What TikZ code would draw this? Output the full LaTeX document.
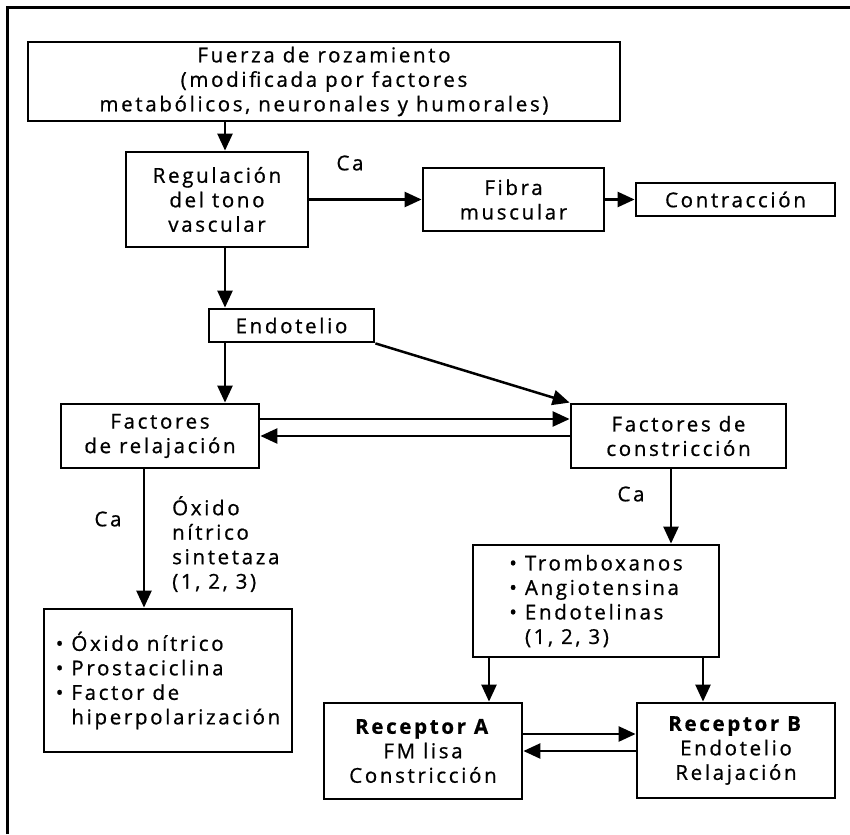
\documentclass[tikz,border=0pt]{standalone}
\usepackage{fontspec}
\setmainfont{Open Sans}[LetterSpace=13,FakeBold=0.8,BoldFeatures={FakeBold=0.8}]
\usetikzlibrary{arrows.meta}
\newcommand\diagfs{\fontsize{20.5}{24.5}\selectfont}
\tikzset{
  box/.style={draw, line width=2.8pt, inner sep=0pt, align=center, font=\diagfs},
  lbl/.style={inner sep=0pt, font=\diagfs},
  arr/.style={line width=2.5pt, -{Triangle[length=17pt,width=15pt]}},
}
\begin{document}
\begin{tikzpicture}[x=1pt,y=-1pt]
\useasboundingbox (0,0) rectangle (850,834);
% frame (top and left edges only)
\draw[line width=3pt] (7,834) -- (7,8) -- (850,8);
% boxes
\node[box, minimum width=592, minimum height=79] (top) at (324,81.5)
  {Fuerza de rozamiento\\(modificada por factores\\metabólicos, neuronales y humorales)};
\node[box, minimum width=182, minimum height=95] (reg) at (217,199.5)
  {Regulación\\del tono\\vascular};
\node[box, minimum width=181, minimum height=63] (fib) at (513.5,199.5)
  {Fibra\\muscular};
\node[box, minimum width=199, minimum height=33] (con) at (735.5,199.5)
  {Contracción};
\node[box, minimum width=165, minimum height=33] (endo) at (291.5,325.5)
  {Endotelio};
\node[box, minimum width=198, minimum height=64] (rel) at (160,436)
  {Factores\\de relajación};
\node[box, minimum width=215, minimum height=64] (cons) at (678.5,436)
  {Factores de\\constricción};
\node[box, minimum width=248, minimum height=143, align=left] (ox) at (168,680.5)
  {• Óxido nítrico\\• Prostaciclina\\• Factor de\\\phantom{• }hiperpolarización};
\node[box, minimum width=246, minimum height=112, align=left] (tro) at (596,601)
  {• Tromboxanos\\• Angiotensina\\• Endotelinas\\\phantom{• }(1, 2, 3)};
\node[box, minimum width=198, minimum height=96] (ra) at (423,751)
  {\textbf{Receptor A}\\FM lisa\\Constricción};
\node[box, minimum width=198, minimum height=95] (rb) at (736,750.5)
  {\textbf{Receptor B}\\Endotelio\\Relajación};
% labels
\node[lbl] (ca1) at (350,163) {Ca};
\node[lbl] (ca2) at (108,519) {Ca};
\node[lbl] (ca3) at (631,494) {Ca};
\node[lbl, anchor=west, align=left] (ons) at (172,544) {Óxido\\nítrico\\sintetaza\\(1, 2, 3)};
% helper coordinates
\coordinate (xa) at (225,0);
\coordinate (xb) at (144,0);
\coordinate (xc) at (671,0);
\coordinate (xd) at (489,0);
\coordinate (xe) at (703,0);
\coordinate (ya) at (0,419);
\coordinate (yb) at (0,436);
\coordinate (yc) at (0,734);
\coordinate (yd) at (0,751);
% connectors
\draw[arr] (top.south -| xa) -- (reg.north -| xa);
\draw[arr] (reg.east) -- (fib.west);
\draw[arr] (fib.east) -- (con.west);
\draw[arr] (reg.south -| xa) -- (endo.north -| xa);
\draw[arr] (endo.south -| xa) -- (rel.north -| xa);
\draw[arr] (endo.south east) -- (cons.north west);
\draw[arr] (rel.east |- ya) -- (cons.west |- ya);
\draw[arr] (cons.west |- yb) -- (rel.east |- yb);
\draw[arr] (rel.south -| xb) -- (ox.north -| xb);
\draw[arr] (cons.south -| xc) -- (tro.north -| xc);
\draw[arr] (tro.south -| xd) -- (ra.north -| xd);
\draw[arr] (tro.south -| xe) -- (rb.north -| xe);
\draw[arr] (ra.east |- yc) -- (rb.west |- yc);
\draw[arr] (rb.west |- yd) -- (ra.east |- yd);
\end{tikzpicture}
\end{document}
